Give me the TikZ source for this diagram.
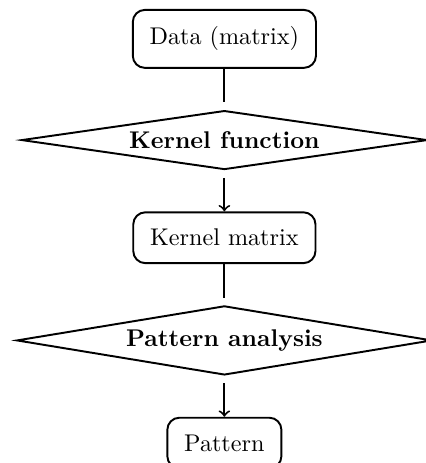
\documentclass[tikz,border=0pt]{standalone}
\usepackage{tikz}
\usetikzlibrary{positioning,shapes.geometric}

\tikzset{
  block/.style={draw, thick, rounded corners=5pt, inner sep=7pt},
  decision/.style={diamond, draw, thick, aspect=7, inner sep=0pt,
    minimum width=168pt, minimum height=24.4pt, font=\bfseries},
  link/.style={thick},
}

\begin{document}
\begin{tikzpicture}[node distance=16.9pt]
  % Frame of the page
  \useasboundingbox (-92.9pt,-175.6pt) rectangle (83.4pt,16.1pt);

  % Steps
  \node[block] (data) {Data (matrix)};
  \node[decision, below=of data] (kfun) {Kernel function};
  \node[block, below=of kfun] (kmat) {Kernel matrix};
  \node[decision, below=of kmat, minimum width=172pt, minimum height=28.6pt] (analysis) {Pattern analysis};
  \node[block, below=of analysis] (pattern) {Pattern};

  % Connectors
  \draw[link, shorten >=3pt] (data) -- (kfun);
  \draw[link, ->, shorten <=3pt] (kfun) -- (kmat);
  \draw[link, shorten >=3pt] (kmat) -- (analysis);
  \draw[link, ->, shorten <=3pt] (analysis) -- (pattern);
\end{tikzpicture}
\end{document}
